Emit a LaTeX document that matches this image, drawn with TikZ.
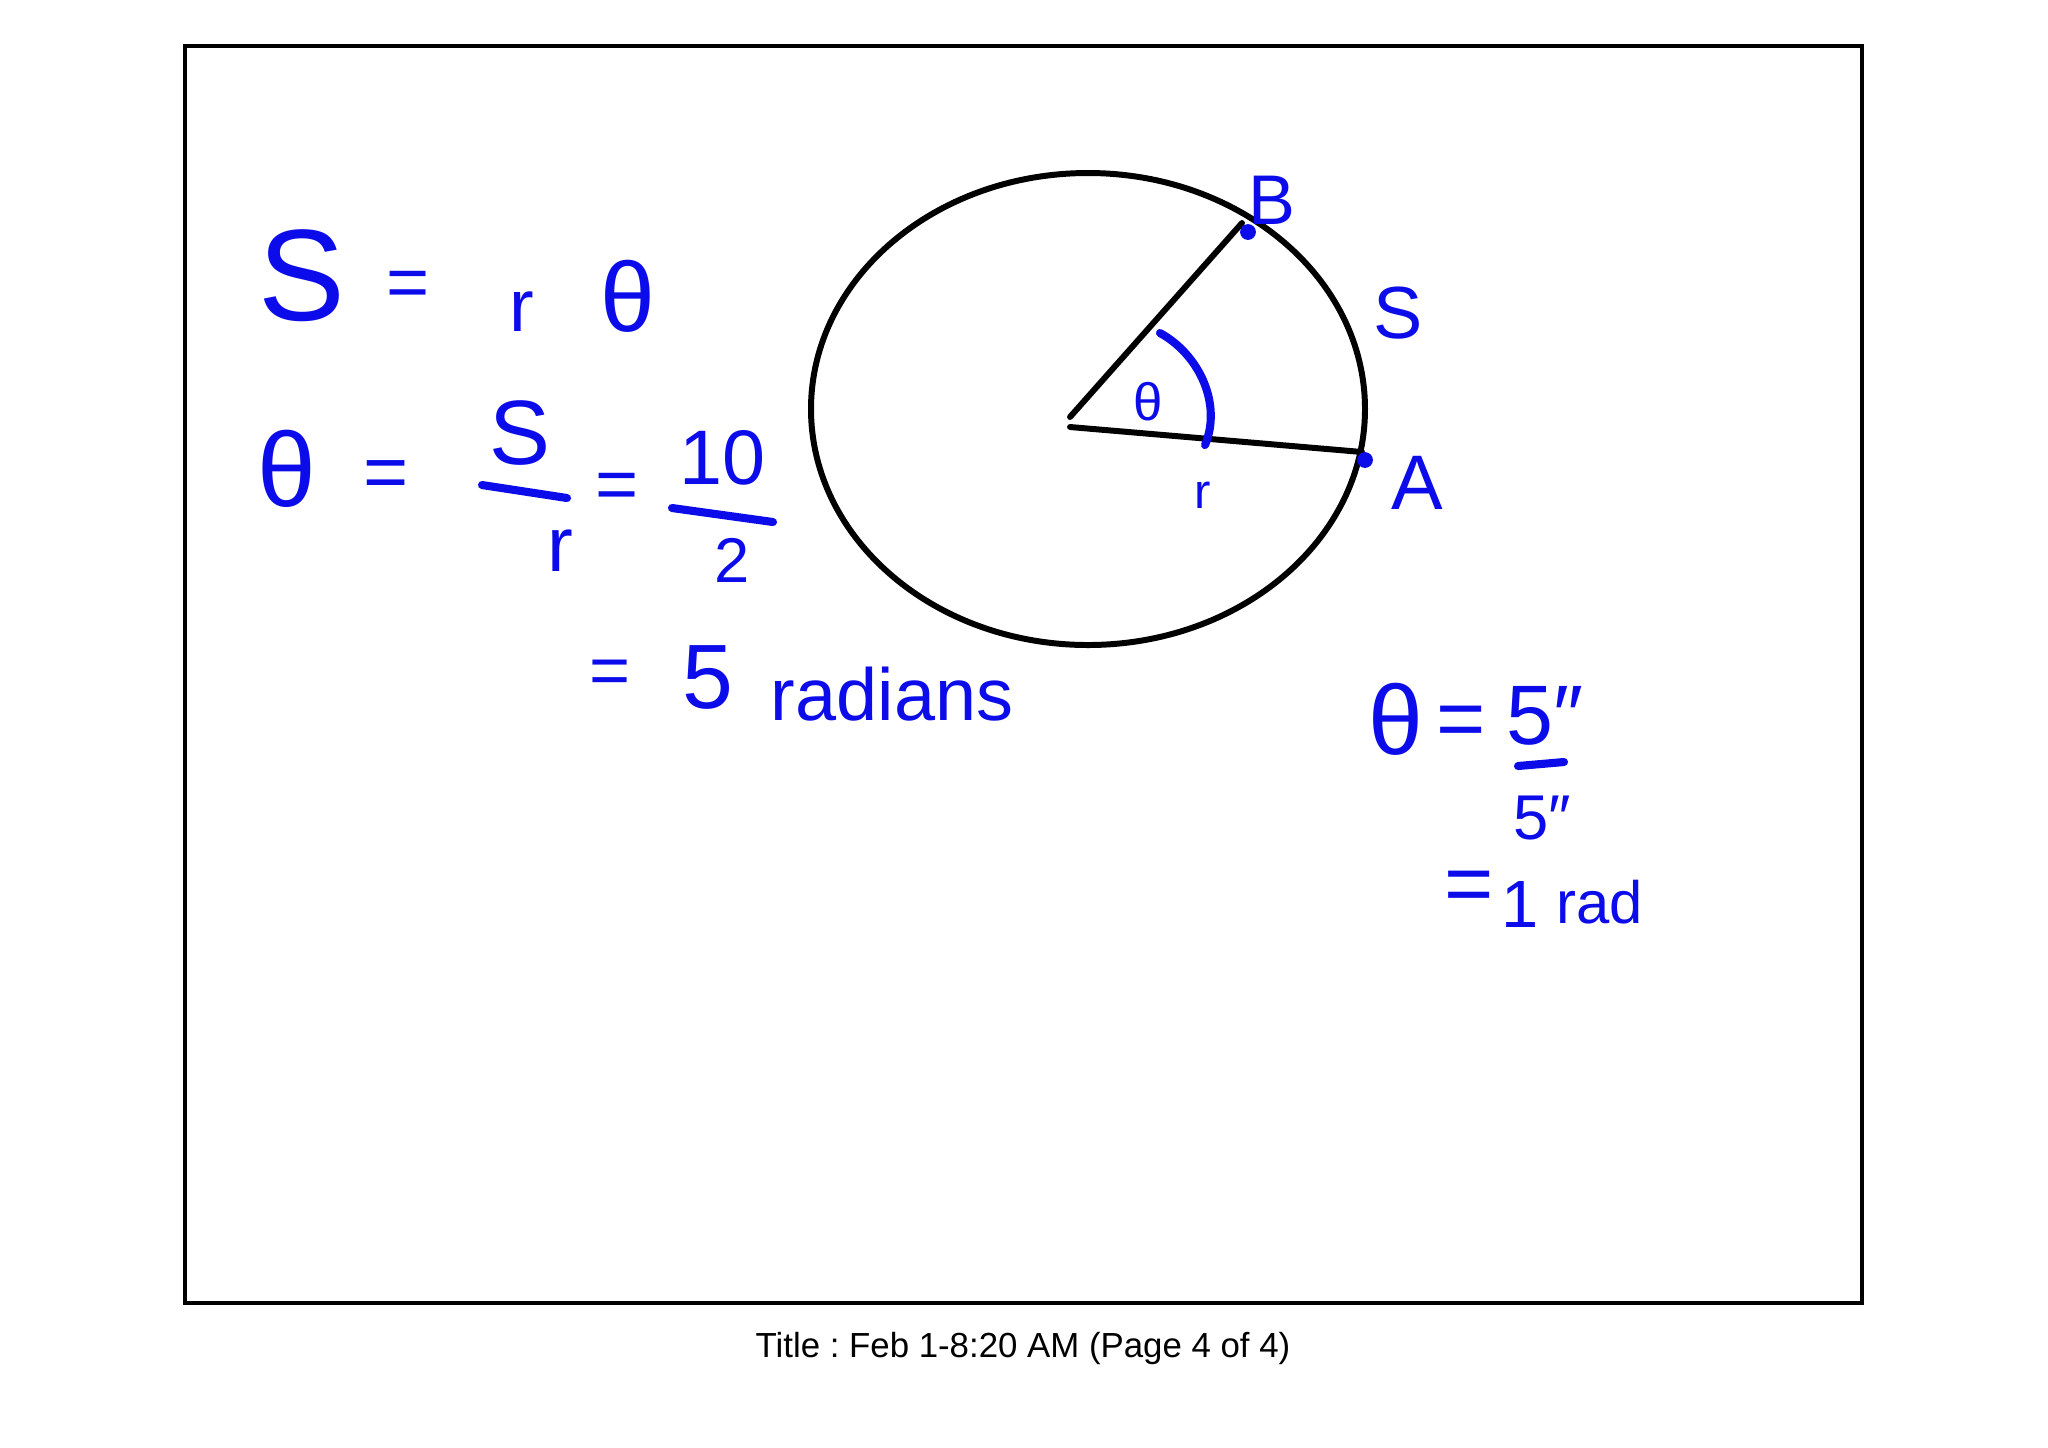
\documentclass[tikz,border=0pt]{standalone}
\usepackage{fontspec}
\setmainfont{Liberation Sans}
\usetikzlibrary{positioning}
\definecolor{ink}{RGB}{12,12,235}

\begin{document}
\begin{tikzpicture}[x=0.01cm,y=-0.01cm,
		hand/.style={text=ink,inner sep=0pt,font=\fontsize{#1}{#1}\selectfont},
		stroke/.style={draw=ink,line width=2.3pt,line cap=round},
		chalk/.style={line width=1.7pt,line cap=round},
		penDot/.style={circle,fill=ink,inner sep=0pt,minimum size=4.5pt}
		]
		\useasboundingbox (0,0) rectangle (2048,1447);
		
		% --- page frame
		\draw[line width=1.2pt] (185,46) rectangle (1862,1303);
		
		% --- arc length formula
		\node[hand=37] (sTop) at (302,276) {S};
		\node[hand=21] (eqTop) at (408,289) {=};
		\node[hand=21] (rTop) at (522,312) {r};
		\node[hand=28] (thTop) at (628,296) {θ};
		
		\node[hand=30] (thL) at (287,469) {θ};
		\node[hand=22] (eqL) at (386,480) {=};
		\node[hand=26] (sNum) at (520,433) {S};
		\node[hand=22] (rDen) at (560,551) {r};
		\draw[stroke] (482,485) -- (567,498);
		\node[hand=21] (eqM) at (617,491) {=};
		\node[hand=22] (tenNum) at (723,458) {10};
		\node[hand=18] (twoDen) at (732,560) {2};
		\draw[stroke] (672,508) -- (773,522);
		
		\node[hand=20] (eqRad) at (610,677) {=};
		\node[hand=26] (five) at (708,677) {5};
		\node[hand=21,anchor=base] (radians) at (892,720) {radians};
		
		% --- circle with sector
		\draw[chalk] (1088,409) ellipse (277 and 236);
		\coordinate (Otop) at (1070,417);
		\coordinate (Obot) at (1070,427);
		\coordinate (ptB) at (1242,223);
		\coordinate (ptA) at (1362,452);
		\draw[chalk] (Otop) -- (ptB);
		\draw[chalk] (Obot) -- (ptA);
		\node[penDot] (dotB) at (1248,232) {};
		\node[penDot] (dotA) at (1365,460) {};
		\draw[stroke] (1160,333) .. controls (1200,355) and (1222,405) .. (1205,445);
		
		\node[hand=20] (labB) at (1272,200) {B};
		\node[hand=21] (labS) at (1398,313) {S};
		\node[hand=15] (labTh) at (1148,402) {θ};
		\node[hand=14] (labR) at (1203,495) {r};
		\node[hand=22] (labA) at (1417,483) {A};
		
		% --- worked example
		\node[hand=28] (thR) at (1396,719) {θ};
		\node[hand=24] (eqR) at (1461,727) {=};
		\node[hand=24] (numR) at (1545,716) {5″};
		\draw[stroke] (1518,766) -- (1564,762);
		\node[hand=18] (denR) at (1542,818) {5″};
		\node[hand=24] (eqOne) at (1469,892) {=};
		\node[hand=19] (one) at (1520,904) {1};
		\node[hand=17] (radR) at (1600,902) {rad};
		
		% --- caption
		\node[font=\fontsize{9.9}{12}\selectfont\frenchspacing] (caption) at (1023,1348) {Title : Feb 1-8:20 AM (Page 4 of 4)};
		
	\end{tikzpicture}
\end{document}
